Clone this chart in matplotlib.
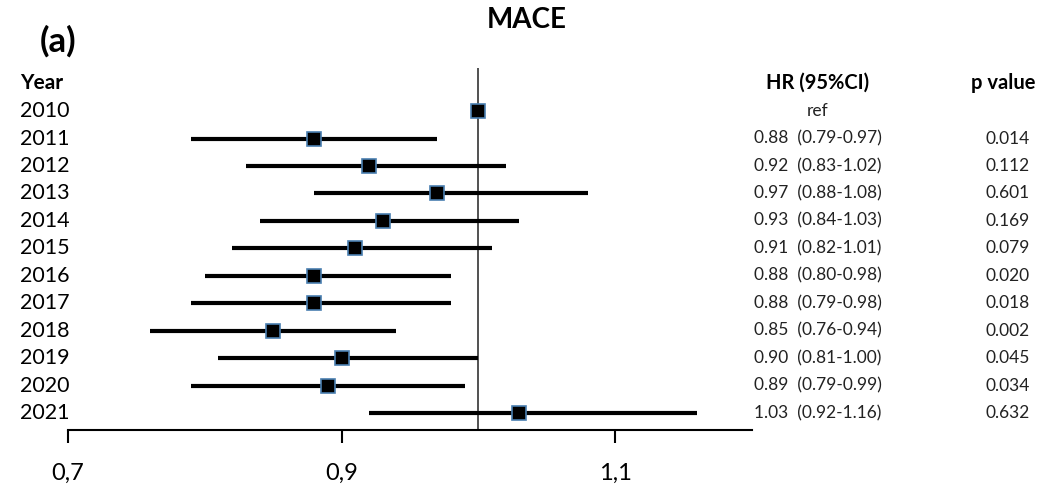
import matplotlib.pyplot as plt
from matplotlib.transforms import blended_transform_factory
from matplotlib.ticker import FuncFormatter

plt.rcParams['font.family'] = ['Lato', 'DejaVu Sans']

# Hazard ratios for MACE by calendar year (2010 is the reference year)
years = ['2010', '2011', '2012', '2013', '2014', '2015',
         '2016', '2017', '2018', '2019', '2020', '2021']
hr = [1.00, 0.88, 0.92, 0.97, 0.93, 0.91, 0.88, 0.88, 0.85, 0.90, 0.89, 1.03]
ci_low = [None, 0.79, 0.83, 0.88, 0.84, 0.82, 0.80, 0.79, 0.76, 0.81, 0.79, 0.92]
ci_high = [None, 0.97, 1.02, 1.08, 1.03, 1.01, 0.98, 0.98, 0.94, 1.00, 0.99, 1.16]
p_values = ['', '0.014', '0.112', '0.601', '0.169', '0.079',
            '0.020', '0.018', '0.002', '0.045', '0.034', '0.632']
xticks = [0.7, 0.9, 1.1]

fig = plt.figure(figsize=(10.64, 4.86), dpi=100)
ax = fig.add_axes([68 / 1064, 56 / 486, 684 / 1064, 362 / 486])

rows = list(range(len(years)))
for i in rows:
    if ci_low[i] is not None:
        ax.plot([ci_low[i], ci_high[i]], [i, i], color='black', lw=3,
                solid_capstyle='butt', zorder=2)
ax.plot(hr, rows, linestyle='none', marker='s', markersize=10,
        markerfacecolor='black', markeredgecolor='#4a7fb0',
        markeredgewidth=1.2, zorder=3)
ax.axvline(1.0, color='#333333', lw=1.2, zorder=1)

ax.set_xlim(0.7, 1.2)
ax.set_ylim(11.62, -1.57)
for side in ['left', 'top', 'right']:
    ax.spines[side].set_visible(False)
ax.spines['bottom'].set_linewidth(1.5)
ax.set_yticks([])
ax.set_xticks(xticks)
ax.xaxis.set_major_formatter(FuncFormatter(lambda v, _: f'{v:.1f}'.replace('.', ',')))
ax.tick_params(axis='x', direction='out', length=9, width=1.5, pad=15,
               labelsize=17)

# Text columns: years on the left, HR and p value on the right
tr = blended_transform_factory(fig.transFigure, ax.transData)
fig.text(20 / 1064, 1 - 83 / 486, 'Year', fontsize=15, fontweight='bold',
         va='center', ha='left')
fig.text(818 / 1064, 1 - 83 / 486, 'HR (95%CI)', fontsize=14.5, fontweight='bold',
         va='center', ha='center')
fig.text(1003 / 1064, 1 - 83 / 486, 'p value', fontsize=14.5, fontweight='bold',
         va='center', ha='center')
for i in rows:
    ax.text(20 / 1064, i, years[i], transform=tr, fontsize=15.5,
            va='center', ha='left')
    if ci_low[i] is None:
        label = 'ref'
    else:
        label = f'{hr[i]:.2f}  ({ci_low[i]:.2f}-{ci_high[i]:.2f})'
    ax.text(818 / 1064, i, label, transform=tr, fontsize=12.5,
            va='center', ha='center', color='#222222')
    ax.text(1008 / 1064, i, p_values[i], transform=tr, fontsize=12.5,
            va='center', ha='center', color='#222222')

fig.text(527 / 1064, 1 - 20 / 486, 'MACE', fontsize=20, fontweight='bold',
         ha='center', va='center')
fig.text(40 / 1064, 1 - 41 / 486, '(a)', fontsize=25, fontweight='bold',
         ha='left', va='center')

fig.savefig('out.png', dpi=100)
